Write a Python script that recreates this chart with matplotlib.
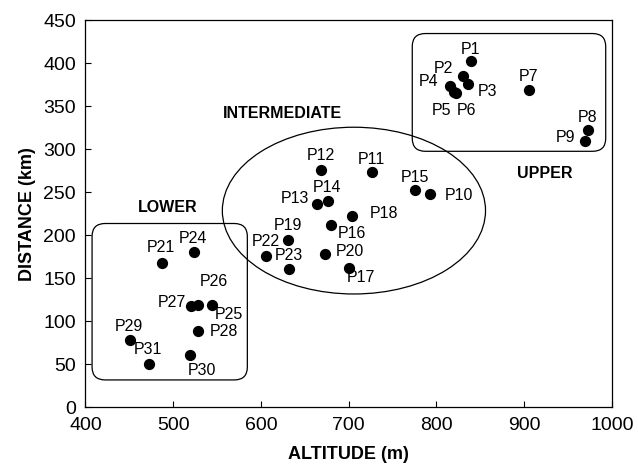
import matplotlib
matplotlib.use('Agg')
import matplotlib.pyplot as plt
from matplotlib.patches import Ellipse, FancyBboxPatch

# point data
names = ['P1', 'P2', 'P3', 'P4', 'P5', 'P6', 'P7', 'P8', 'P9', 'P10',
         'P11', 'P12', 'P13', 'P14', 'P15', 'P16', 'P17', 'P18', 'P19', 'P20',
         'P21', 'P22', 'P23', 'P24', 'P25', 'P26', 'P27', 'P28', 'P29', 'P30', 'P31']
altitude = [839, 830, 836, 816, 820, 822, 905, 973, 969, 793,
            727, 668, 664, 676, 776, 680, 700, 704, 631, 673,
            487, 606, 632, 524, 544, 528, 520, 528, 451, 519, 472]
distance = [402, 385, 376, 373, 366, 365, 369, 322, 310, 248,
            273, 276, 236, 240, 252, 212, 162, 222, 194, 178,
            168, 176, 161, 180, 119, 119, 117, 88, 78, 61, 50]

# label offsets (pixels, dx right, dy up)
label_dx = [0, -19, 20, -22, -12, 11, 0, -1, -19, 29,
            -1, 0, -22, -1, 0, 21, 12, 32, 0, 25,
            -1, 0, 0, -1, 17, 16, -19, 26, -1, 12, -1]
label_dy = [12, 8, -8, 5, -18, -17, 13, 13, 3, -2,
            13, 14, 6, 13, 13, -9, -10, 3, 15, 3,
            15, 14, 13, 14, -10, 23, 4, 0, 13, -16, 15]

groups = ['LOWER', 'INTERMEDIATE', 'UPPER']
group_x = [494, 625, 923]
group_y = [232, 341, 272]

plt.rcParams['font.family'] = ['Liberation Sans', 'DejaVu Sans']

fig = plt.figure(figsize=(6.38, 4.70), dpi=100)
ax = fig.add_axes([0.134, 0.134, 0.825, 0.823])

ax.scatter(altitude, distance, s=50, color='black', zorder=3)

for n, x, y, dx, dy in zip(names, altitude, distance, label_dx, label_dy):
  ax.annotate(n, (x, y), xytext=(dx, dy), textcoords='offset pixels',
              ha='center', va='center', fontsize=11.5)

for g, x, y in zip(groups, group_x, group_y):
  ax.text(x, y, g, ha='center', va='center', fontsize=11.5, fontweight='bold')

# group outlines
ax.add_patch(FancyBboxPatch((407.5, 31.5), 177, 182,
                            boxstyle='round,pad=0,rounding_size=15',
                            fill=False, lw=0.9, ec='black', zorder=2))
ax.add_patch(FancyBboxPatch((772.5, 297.5), 220.5, 137,
                            boxstyle='round,pad=0,rounding_size=15',
                            fill=False, lw=0.9, ec='black', zorder=2))
ax.add_patch(Ellipse((706, 228.5), 300, 194, fill=False, lw=0.9, ec='black', zorder=2))

ax.set_xlim(400, 1000)
ax.set_ylim(0, 450)
ax.set_xticks(range(400, 1001, 100))
ax.set_yticks(range(0, 451, 50))
ax.tick_params(direction='in', length=4, labelsize=14)
ax.tick_params(axis='x', pad=7)
ax.tick_params(axis='y', pad=7)
for s in ax.spines.values():
  s.set_linewidth(0.9)

ax.set_xlabel('ALTITUDE (m)', fontsize=13, fontweight='bold', labelpad=9)
ax.set_ylabel('DISTANCE (km)', fontsize=13, fontweight='bold', labelpad=5)

fig.savefig('out.png', dpi=100)
